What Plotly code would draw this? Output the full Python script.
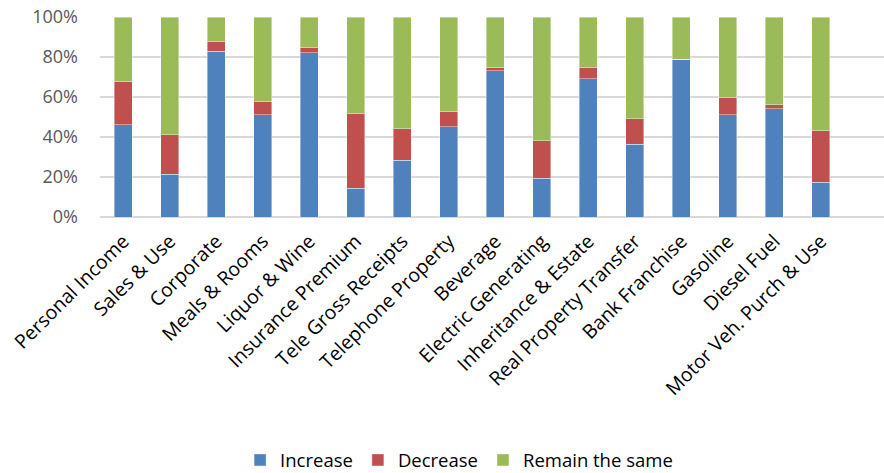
import plotly.graph_objects as go

categories = ["Personal Income", "Sales & Use", "Corporate", "Meals & Rooms", "Liquor & Wine",
              "Insurance Premium", "Tele Gross Receipts", "Telephone Property", "Beverage",
              "Electric Generating", "Inheritance & Estate", "Real Property Transfer",
              "Bank Franchise", "Gasoline", "Diesel Fuel", "Motor Veh. Purch & Use"]
increase = [46.2, 21.3, 83.0, 51.2, 82.2, 14.3, 28.3, 45.2, 73.2, 19.5, 69.2, 36.3, 79.0, 51.2, 54.2, 17.5]
decrease = [21.8, 19.9, 5.0, 6.8, 2.8, 37.7, 15.9, 7.8, 1.8, 18.7, 5.8, 12.9, 0.0, 8.8, 2.0, 25.7]
remain = [round(100 - a - b, 1) for a, b in zip(increase, decrease)]

series = [("Increase", increase, "#4F81BD"),
          ("Decrease", decrease, "#C0504D"),
          ("Remain the same", remain, "#9BBB59")]

fig = go.Figure()
for name, vals, color in series:
    fig.add_trace(go.Bar(
        x=categories, y=vals, name=name,
        marker=dict(color=color, line=dict(color="rgba(255,255,255,0.5)", width=0.8)),
        width=0.39,
    ))

fig.update_layout(
    barmode="stack",
    width=884, height=473,
    margin=dict(l=100, r=0, t=17, b=256, autoexpand=False),
    plot_bgcolor="white", paper_bgcolor="white",
    font=dict(family="Open Sans", color="#000000"),
    showlegend=True,
    legend=dict(orientation="h", x=0.458, xanchor="center", y=-1.217, yanchor="middle",
                font=dict(size=18.5, color="#000000"), itemwidth=30, traceorder="normal"),
    xaxis=dict(range=[-0.5, 16.36], tickangle=-45, tickfont=dict(size=19.5, color="#000000"),
               showgrid=False, showline=False, ticks="", ticklabelstandoff=8),
    yaxis=dict(range=[0, 100], tickvals=[0, 20, 40, 60, 80, 100],
               ticktext=["0%", "20%", "40%", "60%", "80%", "100%"],
               tickfont=dict(size=18, color="#595959"), ticklabeloverflow="allow",
               gridcolor="#D9D9D9", gridwidth=1.5, zeroline=True, zerolinecolor="#D9D9D9",
               zerolinewidth=1.5, showline=False, ticks="", ticklabelstandoff=21),
)

fig.write_html("out.html", config={"displayModeBar": False},
               post_script="document.body.style.margin='0';document.body.style.overflow='hidden';")
